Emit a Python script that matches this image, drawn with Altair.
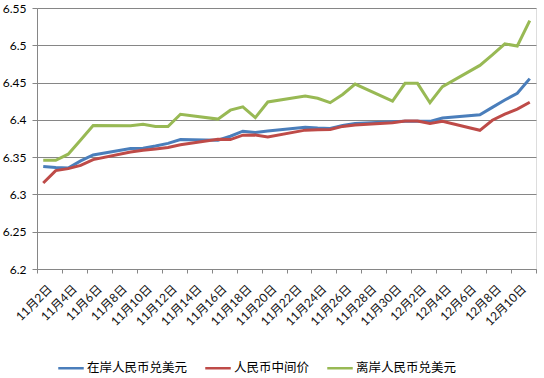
import altair as alt
import pandas as pd

dates = ["2015-11-02", "2015-11-03", "2015-11-04", "2015-11-05", "2015-11-06",
         "2015-11-09", "2015-11-10", "2015-11-11", "2015-11-12", "2015-11-13",
         "2015-11-16", "2015-11-17", "2015-11-18", "2015-11-19", "2015-11-20",
         "2015-11-23", "2015-11-24", "2015-11-25", "2015-11-26", "2015-11-27",
         "2015-11-30", "2015-12-01", "2015-12-02", "2015-12-03", "2015-12-04",
         "2015-12-07", "2015-12-08", "2015-12-09", "2015-12-10", "2015-12-11"]

onshore = [6.3375, 6.3360, 6.3355, 6.3450, 6.3530, 6.3615, 6.3620, 6.3650, 6.3685, 6.3735,
           6.3727, 6.3780, 6.3848, 6.3830, 6.3850, 6.3900, 6.3890, 6.3885, 6.3925, 6.3950,
           6.3975, 6.3980, 6.3982, 6.3980, 6.4024, 6.4068, 6.4167, 6.4266, 6.4356, 6.4553]

fixing = [6.3154, 6.3320, 6.3346, 6.3390, 6.3467, 6.3570, 6.3593, 6.3610, 6.3630, 6.3665,
          6.3740, 6.3736, 6.3795, 6.3796, 6.3770, 6.3862, 6.3866, 6.3870, 6.3912, 6.3930,
          6.3962, 6.3985, 6.3985, 6.3950, 6.3980, 6.3860, 6.3995, 6.4077, 6.4145, 6.4236]

offshore = [6.3458, 6.3458, 6.3540, 6.3730, 6.3925, 6.3920, 6.3940, 6.3910, 6.3910, 6.4075,
            6.4010, 6.4130, 6.4175, 6.4030, 6.4240, 6.4320, 6.4290, 6.4230, 6.4340, 6.4480,
            6.4250, 6.4490, 6.4490, 6.4230, 6.4445, 6.4730, 6.4870, 6.5020, 6.4990, 6.5330]

series_names = ["在岸人民币兑美元", "人民币中间价", "离岸人民币兑美元"]
colors = ["#4A7EBB", "#BE4B48", "#98B954"]
y_ticks = [6.2, 6.25, 6.3, 6.35, 6.4, 6.45, 6.5, 6.55]

rows = []
for name, vals in zip(series_names, [onshore, fixing, offshore]):
    for d, v in zip(dates, vals):
        rows.append({"date": d + "T12:00:00Z", "series": name, "value": v})
df = pd.DataFrame(rows)

tick_dates = pd.date_range("2015-11-02", "2015-12-12", freq="2D")
tick_vals = [alt.DateTime(year=t.year, month=t.month, date=t.day, utc=True) for t in tick_dates]
x_domain = [alt.DateTime(year=2015, month=11, date=2, utc=True),
            alt.DateTime(year=2015, month=12, date=12, utc=True)]

grey = "#868686"
lat_font = "Lato, 'Noto Sans CJK SC', sans-serif"

chart = alt.Chart(df).mark_line(strokeWidth=3).encode(
    x=alt.X(
        "date:T",
        scale=alt.Scale(type="utc", domain=x_domain),
        axis=alt.Axis(
            values=tick_vals,
            labelExpr="(utcmonth(datum.value) == 11 && utcdate(datum.value) == 12) ? '' : utcFormat(datum.value, '%-m月%-d日')",
            labelAngle=-45, labelAlign="right", labelBaseline="top",
            labelOffset=9, labelPadding=10, tickSize=4,
            grid=False, title=None, labelOverlap=False, labelFlush=False,
            domainColor=grey, tickColor=grey,
            labelFont=lat_font, labelFontSize=12, labelColor="#111111",
        ),
    ),
    y=alt.Y(
        "value:Q",
        scale=alt.Scale(domain=[6.2, 6.55], nice=False, zero=False),
        axis=alt.Axis(
            values=y_ticks, format=".2~f", title=None,
            grid=True, gridColor=grey, gridWidth=1,
            domainColor=grey, tickColor=grey, tickSize=5, labelPadding=6,
            labelFont=lat_font, labelFontSize=12, labelColor="#000000",
        ),
    ),
    color=alt.Color(
        "series:N",
        scale=alt.Scale(domain=series_names, range=colors),
        legend=alt.Legend(
            orient="none", legendX=20, legendY=346, direction="horizontal",
            title=None, symbolType="stroke", symbolSize=650, symbolStrokeWidth=2.5,
            labelFont="'Noto Sans CJK SC', sans-serif", labelFontSize=12.5,
            labelColor="#000000", columnPadding=12, labelOffset=2, padding=0,
            labelLimit=0,
        ),
    ),
).properties(
    width=499, height=261,
    autosize=alt.AutoSizeParams(type="none"),
    padding={"left": 37, "top": 8, "right": 8, "bottom": 109},
).configure_view(stroke=None).configure(background="white")

chart.save("out.html", embed_options={"renderer": "svg", "actions": False})
